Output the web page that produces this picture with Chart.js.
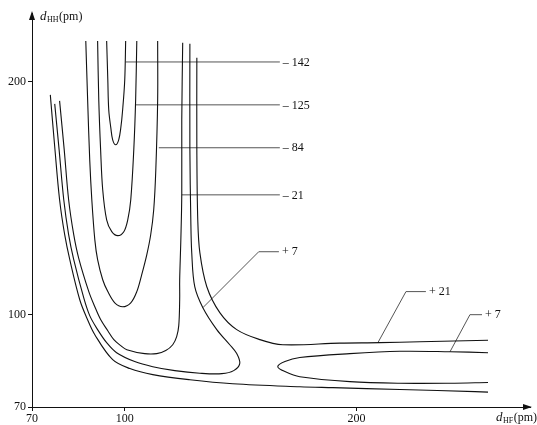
<!DOCTYPE html>
<html>
<head>
<meta charset="utf-8">
<script src="https://cdn.jsdelivr.net/npm/chart.js@4.4.1/dist/chart.umd.min.js"></script>
<style>
  body { margin: 0; background: #fff; }
  #wrap { width: 537px; height: 425px; }
</style>
</head>
<body>
<div id="wrap"><canvas id="pesChart"></canvas></div>
<script>
// contour lines of the H + HF surface, points are [d_HF, d_HH] in pm
const c142 = [[92.2,217.4],[92.7,200.7],[93.1,187.9],[94.0,180.1],[94.8,175.0],[96.1,172.9],[97.4,175.0],[98.3,180.1],[99.1,187.9],[100,200.7],[100.4,217.4]];
const c125 = [[88.3,217.4],[88.8,192.1],[89.6,170.7],[90.5,153.6],[92.2,140.7],[94.4,135.6],[97.0,133.9],[99.6,135.6],[101.3,140.7],[102.6,149.3],[103.9,170.7],[104.7,192.1],[105.2,217.4]];
const c84 = [[83.2,217.4],[84.0,192.1],[84.9,166.4],[85.8,149.3],[87.1,132.1],[88.3,123.6],[90.5,115.0],[92.7,109.9],[95.7,105.1],[99.1,103.4],[102.6,105.1],[105.2,109.9],[107.3,117.1],[109.5,125.7],[111.2,134.3],[112.5,145.0],[113.4,162.1],[114.2,192.1],[114.2,217.4]];
const c21 = [[71.9,191.7],[73.9,170.7],[75.8,149.3],[78.0,134.3],[80.1,124.4],[84.5,109.9],[87.1,103.4],[89.6,97.9],[92.7,93.1],[95.3,89.3],[98.3,86.7],[100.9,85.0],[108.6,83.3],[113.8,83.3],[117.7,84.6],[120.7,87.1],[122.4,90.6],[123.3,95.3],[123.7,106.4],[123.7,115.0],[124.2,132.1],[124.6,151.4],[124.6,183.6],[125.0,216.6]];
const c7 = [[69.8,190.4],[71.7,170.7],[73.7,149.3],[75.8,134.3],[78.0,123.6],[82.3,107.3],[84.9,99.6],[88.3,93.6],[92.2,88.0],[96.5,83.7],[104.3,79.9],[112.1,77.7],[121.6,76.0],[132.4,74.9],[141.9,74.7],[147.0,76.0],[149.6,79.0],[148.3,83.3],[145.3,87.1],[139.7,93.6],[133.7,103.0],[130.2,112.0],[128.9,126.6],[128.5,140.7],[128.1,170.7],[128.1,216.2]];
const cPlus21 = [[131.1,210.2],[131.1,170.7],[131.5,140.7],[132.4,126.6],[135.4,112.0],[141.0,100.9],[148.3,93.6],[158.3,89.3],[168.2,87.1],[192.8,87.8],[210.1,88.0],[227.3,88.4],[256.7,89.0]];
const cOuter = [[67.9,194.3],[69.8,172.0],[71.9,149.3],[74.1,134.3],[76.3,123.6],[80.6,106.4],[83.6,98.7],[87.1,91.4],[94.8,80.7],[102.2,76.9],[112.1,74.3],[128.1,72.1],[146.6,70.4],[175.5,69.1],[189.8,68.7],[218.7,67.9],[251.1,67.0],[256.7,66.8]];
const cLoop = [[256.7,83.7],[240.3,84.1],[218.7,84.3],[197.1,83.3],[175.5,81.6],[169.1,79.9],[166.0,77.7],[169.1,75.6],[175.5,73.4],[197.1,71.3],[218.7,70.6],[240.3,70.6],[256.7,70.9]];

// leader lines from a contour to its energy label (kJ/mol)
const levelLabels = ['\u2013 142', '\u2013 125', '\u2013 84', '\u2013 21', '+ 7', '+ 21', '+ 7'];
const leaders = [
  [[100.4,208.4],[166.9,208.4]],
  [[104.7,190.0],[166.9,190.0]],
  [[114.7,171.6],[166.9,171.6]],
  [[124.6,151.4],[166.9,151.4]],
  [[133.7,103.0],[157.8,127.0],[166.5,127.0]],
  [[209.2,88.0],[221.3,109.9],[229.9,109.9]],
  [[240.3,84.1],[248.9,100.0],[254.1,100.0]]
];

// axes: the origin is labelled 70 in the source figure
const xTicks = [60, 100, 200];
const xTickLabels = ['70', '100', '200'];
const yTicks = [60.4, 100, 200];
const yTickLabels = ['70', '100', '200'];

const toXY = arr => arr.map(p => ({ x: p[0], y: p[1] }));

const contours = [c142, c125, c84, c21, c7, cPlus21, cOuter, cLoop];
const datasets = contours.map(c => ({
  data: toXY(c),
  showLine: true,
  borderColor: '#111',
  borderWidth: 1.1,
  pointRadius: 0,
  tension: 0.35
})).concat(leaders.map(l => ({
  data: toXY(l),
  showLine: true,
  borderColor: '#555',
  borderWidth: 1,
  pointRadius: 0,
  tension: 0
})));

Chart.defaults.font.family = '"Liberation Serif", "Times New Roman", serif';
Chart.defaults.font.size = 12;
Chart.defaults.color = '#111';

function drawSubText(ctx, x, y, main, sub, rest) {
  ctx.textAlign = 'left';
  ctx.textBaseline = 'alphabetic';
  ctx.font = 'italic 13px "Liberation Serif", serif';
  ctx.fillText(main, x, y);
  x += ctx.measureText(main).width + 0.5;
  ctx.font = '8px "Liberation Serif", serif';
  ctx.fillText(sub, x, y + 2);
  x += ctx.measureText(sub).width + 0.5;
  ctx.font = '12px "Liberation Serif", serif';
  ctx.fillText(rest, x, y);
}

// arrow heads, axis titles and contour values
const decorPlugin = {
  id: 'decor',
  afterDraw(chart) {
    const { ctx, chartArea: a, scales } = chart;
    ctx.save();
    ctx.fillStyle = '#111';
    ctx.beginPath();
    ctx.moveTo(a.left, a.top - 2);
    ctx.lineTo(a.left - 3, a.top + 7);
    ctx.lineTo(a.left + 3, a.top + 7);
    ctx.closePath();
    ctx.fill();
    ctx.beginPath();
    ctx.moveTo(a.right + 2, a.bottom);
    ctx.lineTo(a.right - 7, a.bottom - 3);
    ctx.lineTo(a.right - 7, a.bottom + 3);
    ctx.closePath();
    ctx.fill();

    drawSubText(ctx, a.left + 8, a.top + 7, 'd', 'HH', '(pm)');
    drawSubText(ctx, a.right - 34, a.bottom + 14, 'd', 'HF', '(pm)');

    ctx.font = '12px "Liberation Serif", serif';
    ctx.textBaseline = 'middle';
    ctx.textAlign = 'left';
    leaders.forEach((l, i) => {
      const end = l[l.length - 1];
      const px = scales.x.getPixelForValue(end[0]);
      const py = scales.y.getPixelForValue(end[1]);
      ctx.fillText(levelLabels[i], px + 3, py + 0.5);
    });
    ctx.restore();
  }
};

const ctx = document.getElementById('pesChart').getContext('2d');
const pesChart = new Chart(ctx, {
  type: 'scatter',
  data: { datasets: datasets },
  options: {
    responsive: true,
    maintainAspectRatio: false,
    animation: false,
    layout: { padding: { top: 13, right: 7, left: 0, bottom: 0 } },
    plugins: { legend: { display: false }, tooltip: { enabled: false } },
    scales: {
      x: {
        type: 'linear',
        min: 60,
        max: 274.8,
        afterBuildTicks: s => { s.ticks = xTicks.map(v => ({ value: v })); },
        afterFit: s => { s.height = 18; },
        grid: { display: true, drawOnChartArea: false, drawTicks: true, tickLength: 4, color: '#111' },
        border: { display: true, color: '#111', width: 1 },
        ticks: { padding: 1, autoSkip: false, maxRotation: 0, callback: (v, i) => xTickLabels[i] }
      },
      y: {
        type: 'linear',
        min: 60.4,
        max: 229.4,
        afterBuildTicks: s => { s.ticks = yTicks.map(v => ({ value: v })); },
        afterFit: s => { s.width = 32; },
        grid: { display: true, drawOnChartArea: false, drawTicks: true, tickLength: 4, color: '#111' },
        border: { display: true, color: '#111', width: 1 },
        ticks: { padding: 2, autoSkip: false, callback: (v, i) => yTickLabels[i] }
      }
    }
  },
  plugins: [decorPlugin]
});
</script>
</body>
</html>
